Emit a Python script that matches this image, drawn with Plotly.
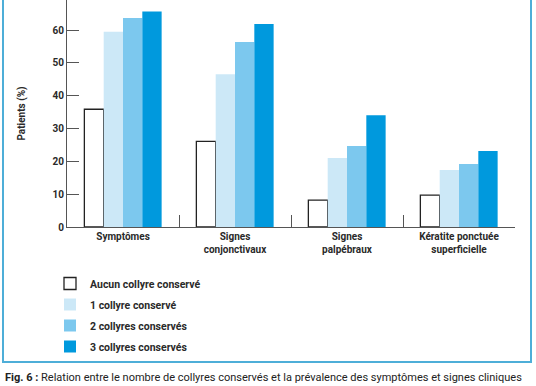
import plotly.graph_objects as go

categories = ["Symptômes", "Signes<br>conjonctivaux", "Signes<br>palpébraux", "Kératite ponctuée<br>superficielle"]
series_names = ["Aucun collyre conservé", "1 collyre conservé", "2 collyres conservés", "3 collyres conservés"]
aucun = [35.9, 26.1, 8.2, 9.7]
un = [59.5, 46.6, 21.0, 17.4]
deux = [63.7, 56.4, 24.7, 19.2]
trois = [65.7, 61.9, 34.1, 23.2]
y_ticks = [0, 10, 20, 30, 40, 50, 60, 70]

series_values = [aucun, un, deux, trois]
colors = ["#ffffff", "#cce8f7", "#7cc8ee", "#0099dd"]
line_w = [1.3, 0, 0, 0]

FONT = "Roboto, Arial, sans-serif"
W, H = 536, 386
L, R, T, B = 67, 21, 0, 159
pw = W - L - R
ph = H - T - B

def px(x):
    return (x - L) / pw

def py(y):
    return (T + ph - y) / ph

fig = go.Figure()
for i, (name, vals) in enumerate(zip(series_names, series_values)):
    fig.add_trace(go.Bar(
        x=categories, y=vals, name=name,
        marker=dict(color=colors[i], line=dict(color="#222222", width=line_w[i])),
        legendgroup=f"g{i}",
    ))

fig.update_layout(
    width=W, height=H,
    margin=dict(l=L, r=R, t=T, b=B),
    paper_bgcolor="white", plot_bgcolor="white",
    barmode="group", bargap=0.31, bargroupgap=0,
    font=dict(family=FONT, size=10, color="#2a2a2a", weight="bold"),
    showlegend=True,
    legend=dict(
        x=px(50), y=py(269), xanchor="left", yanchor="top",
        orientation="v", tracegroupgap=2,
        font=dict(family=FONT, size=10.5, color="#2a2a2a", weight="bold"),
        bgcolor="rgba(0,0,0,0)",
    ),
    xaxis=dict(
        type="category", showline=True, linecolor="#555555", linewidth=1,
        ticks="inside", tickson="boundaries", ticklen=12, tickcolor="#555555",
        tickfont=dict(family=FONT, size=10, color="#2a2a2a", weight="bold"),
        showgrid=False, zeroline=False, fixedrange=True,
    ),
    yaxis=dict(
        range=[0, 69.2], tickvals=y_ticks, showline=True, linecolor="#555555", linewidth=1,
        ticks="inside", ticklen=12, tickcolor="#555555",
        tickfont=dict(family=FONT, size=10, color="#2a2a2a", weight="bold"),
        showgrid=False, zeroline=False,
        title=dict(text="Patients (%)", standoff=25,
                   font=dict(family=FONT, size=10, color="#2a2a2a", weight="bold")),
    ),
    shapes=[dict(
        type="rect", xref="paper", yref="paper",
        x0=px(3), x1=px(531), y0=py(362), y1=py(-10),
        line=dict(color="#4eaed8", width=2), fillcolor="rgba(0,0,0,0)", layer="below",
    )],
    annotations=[dict(
        xref="paper", yref="paper", x=px(3), y=py(377), xanchor="left", yanchor="middle",
        showarrow=False,
        text="<b>Fig. 6 :</b> Relation entre le nombre de collyres conservés et la prévalence des symptômes et signes cliniques",
        font=dict(family=FONT, size=11, color="#222222", weight="normal"),
    )],
)

fig.write_html("out.html", config={"displayModeBar": False},
               post_script="document.body.style.margin='0';document.body.style.overflow='hidden';")
